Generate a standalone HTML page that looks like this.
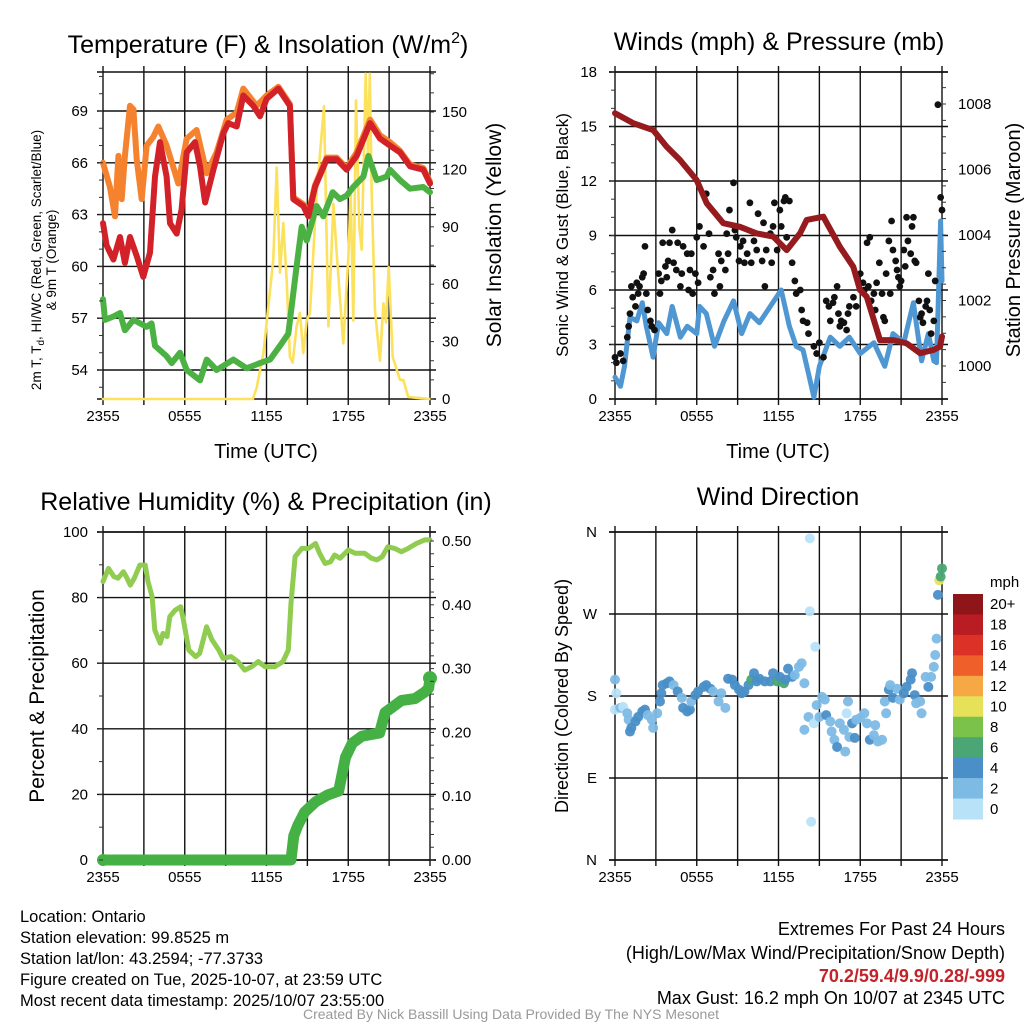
<!DOCTYPE html>
<html><head><meta charset="utf-8"><style>
body{margin:0;background:#fff}
svg{display:block;font-family:"Liberation Sans",Arial,sans-serif}
</style></head><body>
<svg id="s" width="1024" height="1024" viewBox="0 0 1024 1024" xmlns="http://www.w3.org/2000/svg">
<g id="tx" fill="#000">
<text x="268" y="53" font-size="25" text-anchor="middle">Temperature (F) &amp; Insolation (W/m<tspan dy="-10" font-size="16">2</tspan><tspan dy="10">)</tspan></text>
<text x="779" y="50" font-size="25" text-anchor="middle">Winds (mph) &amp; Pressure (mb)</text>
<text x="266" y="510" font-size="25" text-anchor="middle">Relative Humidity (%) &amp; Precipitation (in)</text>
<text x="778" y="505" font-size="25" text-anchor="middle">Wind Direction</text>
<text x="266" y="458" font-size="20" text-anchor="middle">Time (UTC)</text>
<text x="778" y="458" font-size="20" text-anchor="middle">Time (UTC)</text>
<text transform="translate(41,260) rotate(-90)" font-size="13.5" text-anchor="middle">2m T, T<tspan font-size="10" dy="3">d</tspan><tspan dy="-3">, HI/WC (Red, Green, Scarlet/Blue)</tspan></text>
<text transform="translate(56,260) rotate(-90)" font-size="13.5" text-anchor="middle">&amp; 9m T (Orange)</text>
<text transform="translate(501,235) rotate(-90)" font-size="21" text-anchor="middle">Solar Insolation (Yellow)</text>
<text transform="translate(568,235) rotate(-90)" font-size="17" text-anchor="middle">Sonic Wind &amp; Gust (Blue, Black)</text>
<text transform="translate(1020,240) rotate(-90)" font-size="20" text-anchor="middle">Station Pressure (Maroon)</text>
<text transform="translate(44,696) rotate(-90)" font-size="21" text-anchor="middle">Percent &amp; Precipitation</text>
<text transform="translate(568,696) rotate(-90)" font-size="18" text-anchor="middle">Direction (Colored By Speed)</text>
<text x="990" y="587" font-size="15">mph</text>
<g font-size="16.5">
<text x="20" y="922">Location: Ontario</text>
<text x="20" y="943">Station elevation: 99.8525 m</text>
<text x="20" y="964">Station lat/lon: 43.2594; -77.3733</text>
<text x="20" y="985">Figure created on Tue, 2025-10-07, at 23:59 UTC</text>
<text x="20" y="1006">Most recent data timestamp: 2025/10/07 23:55:00</text>
</g>
<g font-size="18" text-anchor="end">
<text x="1005" y="935">Extremes For Past 24 Hours</text>
<text x="1005" y="959">(High/Low/Max Wind/Precipitation/Snow Depth)</text>
<text x="1005" y="982" fill="#c3242b" font-weight="bold">70.2/59.4/9.9/0.28/-999</text>
<text x="1005" y="1004">Max Gust: 16.2 mph On 10/07 at 2345 UTC</text>
</g>
<text x="511" y="1019" font-size="14" fill="#999" text-anchor="middle">Created By Nick Bassill Using Data Provided By The NYS Mesonet</text>
</g>
</svg>
<script>
// ---------- data ----------
const xTickLabels=["2355","0555","1155","1755","2355"];
const tempHours=[0,0.27,0.76,1.25,1.61,1.98,2.47,2.96,3.45,3.82,4.18,4.67,4.92,5.41,5.77,6.14,6.75,7.12,7.49,8.1,8.83,9.2,9.81,10.3,11.03,11.52,12.01,12.87,13.72,13.97,14.7,15.07,15.56,16.42,17.15,17.88,18.62,19.6,20.33,21.06,21.8,22.53,23.51,24];
const tempVals=[62.5,61.2,60.4,61.7,60.2,61.7,60.6,59.4,60.8,65.2,67.2,65.2,62.5,61.9,63.3,66.6,67.2,65.8,63.7,65.6,67.7,68.3,68.1,69.9,69.3,68.7,69.7,70.3,69.3,63.9,63.5,62.9,64.6,66.2,66.2,65.6,66.4,68.3,67.4,67.0,66.6,65.8,65.6,64.8];
const t9Hours=[0,0.51,0.88,1.13,1.37,1.61,1.98,2.23,2.47,2.84,3.21,3.69,4.06,4.67,5.53,6.14,6.87,7.61,8.34,9.08,9.81,10.3,11.28,12.01,12.87,13.72,13.97,14.7,15.07,15.56,16.42,17.15,17.88,18.62,19.6,20.33,21.06,21.8,22.53,23.51,24];
const t9Vals=[66.0,64.6,62.9,66.4,63.9,66.4,69.3,69.1,66.2,63.9,67.0,67.5,68.1,67.0,64.8,67.4,67.9,65.4,66.6,68.5,68.9,70.3,69.3,69.9,70.4,69.4,64.0,63.6,63.0,64.7,66.3,66.3,65.7,66.6,68.5,67.6,67.2,66.7,65.9,65.7,64.9];
const dewHours=[0,0.15,0.76,1.25,1.61,2.23,2.72,3.21,3.57,3.82,4.67,5.04,5.65,6.14,7.12,7.61,8.34,9.57,10.54,11.52,12.26,12.99,13.6,14.21,14.58,14.95,15.68,16.17,16.86,17.39,17.88,18.37,19.11,19.48,20.09,20.82,21.06,21.8,22.53,23.51,24];
const dewVals=[58.1,56.9,57.1,57.3,56.3,56.9,56.7,56.5,56.7,55.4,54.8,54.4,55.0,54.0,53.4,54.6,54.0,54.6,54.1,54.4,54.6,55.4,56.1,60.0,62.3,61.5,63.5,62.9,64.3,63.9,64.1,64.6,65.2,66.4,65.0,65.2,65.6,65.0,64.5,64.6,64.3];
const solHours=[0,11.0,11.28,11.77,12.13,12.5,12.75,12.99,13.23,13.48,13.72,13.92,14.21,14.46,14.7,14.95,15.19,15.68,16.22,16.54,16.91,17.15,17.64,18.01,18.18,18.37,18.57,18.81,18.99,19.28,19.45,19.58,19.72,19.96,20.33,20.58,20.77,20.97,21.26,21.8,22.04,22.41,24];
const solVals=[0,0,6,24,48,73,121,66,92,62,22,19,38,45,24,41,45,107,153,38,102,76,29,75,108,41,156,90,78,170,128,170,107,46,20,50,40,69,22,10,10,1,0];
const presHours=[0,1.35,2.81,3.79,4.77,5.99,6.73,7.95,9.17,10.4,11.62,12.6,13.58,14.07,15.29,16.51,17.49,17.98,18.47,19.45,20.43,21.41,22.39,23.36,23.85,24];
const presVals=[1007.72,1007.41,1007.2,1006.7,1006.29,1005.68,1004.97,1004.36,1004.25,1004.05,1003.95,1003.54,1004.05,1004.46,1004.56,1003.64,1003.03,1002.32,1002.12,1000.79,1000.79,1000.69,1000.39,1000.49,1000.59,1000.9];
const windHours=[0,0.4,0.7,1.1,1.6,2.0,2.3,2.8,3.2,3.8,4.2,4.8,5.3,6.0,6.2,6.7,7.3,8.0,8.7,9.3,9.9,10.6,11.4,12.2,12.8,13.3,13.8,14.2,14.6,15.0,15.8,16.5,17.2,18.0,19.0,19.8,20.4,21.2,21.9,22.5,23.0,23.4,23.6,23.9,24.0];
const windVals=[1.2,0.7,1.8,4.5,4.3,5.3,4.0,2.3,4.2,3.6,5.1,3.4,4.0,3.6,5.1,4.7,2.9,4.3,5.4,3.6,4.7,4.2,5.1,6.0,4.0,2.9,2.7,1.4,0.1,1.8,3.4,2.9,3.4,2.5,3.1,1.8,3.6,3.1,5.3,2.1,3.6,2.1,2.0,9.8,6.5];
const gustHours=[0,0.1,0.4,0.6,0.9,1.0,1.1,1.2,1.3,1.5,1.6,1.7,1.8,2.0,2.1,2.2,2.3,2.4,2.6,2.7,2.9,3.2,3.3,3.4,3.5,3.7,3.8,3.9,4.0,4.2,4.3,4.5,4.6,4.8,4.9,5.0,5.3,5.4,5.5,5.6,5.7,5.9,6.0,6.1,6.2,6.5,6.7,6.9,7.0,7.2,7.3,7.6,7.7,7.8,8.1,8.2,8.3,8.4,8.7,8.8,8.9,9.1,9.2,9.4,9.5,9.7,9.9,10.0,10.2,10.4,10.5,10.8,10.9,11.0,11.1,11.4,11.5,11.6,11.7,11.9,12.1,12.2,12.4,12.5,12.6,12.8,13.0,13.2,13.3,13.6,13.7,13.8,14.1,14.2,14.6,14.8,15.0,15.3,15.5,15.7,15.8,16.0,16.1,16.3,16.4,16.5,16.6,16.8,17.0,17.1,17.2,17.5,17.7,18.0,18.2,18.3,18.5,18.6,18.7,18.8,19.0,19.1,19.2,19.4,19.6,19.7,19.8,19.9,20.1,20.2,20.3,20.4,20.6,20.7,20.8,20.9,21.0,21.2,21.3,21.4,21.5,21.7,21.8,21.9,22.0,22.1,22.3,22.4,22.5,22.6,22.8,22.9,23.0,23.1,23.2,23.4,23.5,23.7,23.9,24.0];
const gustVals=[2.3,2.0,2.5,2.1,3.4,4.0,4.7,6.2,5.6,5.1,6.4,5.8,6.2,6.7,6.9,8.4,5.8,4.9,4.3,4.0,3.8,6.9,5.8,6.5,8.6,7.3,6.7,7.6,8.6,9.3,7.5,7.1,8.6,6.2,6.9,8.4,8.0,6.0,7.1,8.0,5.8,6.9,8.9,6.4,9.5,8.4,11.3,9.1,6.7,7.1,5.8,8.0,6.2,7.6,7.1,9.1,8.0,10.4,11.9,9.3,8.9,7.6,8.4,8.7,7.5,8.0,10.8,7.5,8.7,8.2,10.2,7.6,9.7,6.2,8.2,9.1,7.5,9.5,10.8,8.2,10.4,9.5,10.9,11.1,8.9,10.9,7.5,6.5,5.8,6.0,4.9,4.3,4.2,3.6,2.9,2.5,3.1,2.3,5.4,5.1,4.3,5.3,5.6,6.2,4.7,4.0,4.3,4.2,3.8,4.7,5.1,5.6,5.1,6.9,6.4,6.0,8.6,6.2,8.9,5.4,5.8,4.9,6.4,7.5,5.8,4.5,4.3,6.9,8.7,5.8,9.8,8.2,7.6,7.1,6.7,6.2,6.5,8.2,7.3,10.0,8.7,8.0,9.5,10.0,7.6,7.5,5.4,4.5,4.7,4.2,5.1,5.4,6.9,4.9,3.6,4.3,6.5,16.2,11.1,10.4];
const rhHours=[0,0.4,0.8,1.1,1.5,1.7,2.0,2.3,2.7,3.1,3.3,3.6,3.8,4.2,4.4,4.7,4.9,5.3,5.7,5.9,6.3,6.8,7.1,7.6,8.0,8.5,8.8,9.4,9.9,10.4,10.9,11.4,11.9,12.6,13.2,13.6,13.8,14.1,14.6,15.1,15.6,15.9,16.3,16.7,17.0,17.4,18.0,18.5,19.2,19.7,20.1,20.5,20.9,21.4,21.9,22.4,23.0,23.6,24];
const rhVals=[84.9,88.9,86.4,85.9,87.9,86.4,83.8,85.9,89.9,89.9,84.9,80.3,70.1,66.1,69.1,68.1,74.2,76.2,77.2,73.2,64.0,62.0,63.0,71.1,67.1,64.0,61.5,62.0,60.5,57.9,58.9,60.5,58.9,58.9,60.5,64.0,78.3,92.5,95.0,95.0,96.5,93.5,90.4,90.9,93.0,92.0,94.5,93.5,93.5,92.0,91.5,92.5,95.5,95.0,94.0,95.0,96.5,97.6,97.6];
const prHours=[0,13.8,14.0,14.3,14.8,15.6,16.5,17.3,17.8,18.3,19.0,20.3,20.7,21.4,21.9,22.9,23.6,23.9,24];
const prVals=[0,0,0.038,0.054,0.075,0.091,0.102,0.108,0.161,0.183,0.194,0.199,0.231,0.242,0.25,0.253,0.263,0.269,0.285];
const dirHours=[0.0,0.1,0.0,0.4,0.6,0.9,1.0,1.2,1.1,1.5,1.7,2.0,2.2,2.4,2.7,2.8,3.1,3.3,3.4,3.5,3.8,4.0,4.3,4.6,4.9,5.0,5.3,5.5,5.6,5.9,6.1,6.5,6.7,7.0,7.2,7.6,7.8,8.1,8.3,8.6,8.8,9.1,9.3,9.5,9.8,10.0,10.2,10.4,10.6,11.0,11.4,11.6,11.9,12.1,12.4,12.5,12.7,13.0,13.2,13.5,13.7,13.9,14.3,14.3,14.7,13.9,14.2,14.6,14.8,15.0,15.2,15.4,15.5,15.8,15.9,16.1,16.3,16.5,16.8,16.9,17.0,17.1,17.2,17.4,17.6,17.7,18.0,18.3,18.5,18.7,19.0,19.1,19.3,19.6,19.8,19.9,20.1,20.2,20.4,20.7,20.9,21.2,21.4,21.7,21.8,22.0,22.1,22.4,22.5,22.8,23.0,23.2,23.4,23.5,23.6,23.7,23.8,23.9,24.0,14.4];
const dirVals=[198,183,165,167,168,161,154,145,141,152,157,163,165,159,154,145,161,174,183,192,194,196,192,185,178,167,163,165,174,181,185,190,192,188,185,174,183,167,199,198,192,187,183,185,192,198,205,196,199,196,196,205,196,201,194,198,210,201,203,212,216,194,353,273,234,143,157,150,170,157,179,176,159,152,141,132,124,150,143,119,161,174,135,150,134,154,156,161,150,132,137,148,130,132,174,161,187,192,178,188,176,183,190,198,205,181,172,174,161,201,190,201,212,225,243,291,307,311,320,42];
const dirSpeed=[2,0,0,2,0,2,2,4,4,4,4,4,4,2,2,2,2,4,4,4,4,4,2,4,2,4,4,4,2,4,4,4,4,4,2,2,2,2,4,4,4,4,4,4,4,6,4,4,4,4,4,4,6,4,6,4,4,4,2,2,2,2,0,0,0,2,2,0,2,2,2,2,4,2,2,2,4,2,2,2,0,2,2,4,4,2,2,2,2,4,2,2,2,2,2,2,4,2,4,2,2,4,4,4,4,4,2,2,2,2,4,2,2,2,2,4,10,6,6,0];
const cbLabels=["20+","18","16","14","12","10","8","6","4","2","0"];
const cbColors=["#8e1518","#b91c22","#dc3127","#ef5f2a","#f5a843","#e7e15a","#7bc24a","#4aa674","#4a8fc7","#7dbbe5","#b8e2f8"];

// ---------- helpers ----------
const S=document.getElementById('s');
const NS='http://www.w3.org/2000/svg';
function mk(tag,attrs,parent){const e=document.createElementNS(NS,tag);for(const k in attrs)e.setAttribute(k,attrs[k]);(parent||S).appendChild(e);return e;}
function lin(d0,d1,r0,r1){return v=>r0+(v-d0)*(r1-r0)/(d1-d0);}
function txt(x,y,s,anchor,size,parent){const t=mk('text',{x:x,y:y,'font-size':size||15,'text-anchor':anchor||'middle'},parent);t.textContent=s;return t;}

function panel(name,x0,x1,y0,y1,hLines){
  const g=mk('g',{});
  
  
  const xs=lin(0,24,x0,x1);
  for(let h=0;h<=24;h+=3){mk('line',{x1:xs(h),x2:xs(h),y1:y0-6,y2:y1+6,stroke:'#111','stroke-width':1.4},g);}
  hLines.forEach(y=>{mk('line',{x1:x0-6,x2:x1+6,y1:y,y2:y,stroke:'#111','stroke-width':1.4},g);});
  mk('line',{x1:x0-6,x2:x1+6,y1:y0,y2:y0,stroke:'#111','stroke-width':1.4},g);
  mk('line',{x1:x0-6,x2:x1+6,y1:y1,y2:y1,stroke:'#111','stroke-width':1.4},g);
  const lg=mk('g',{});
  
  
  xTickLabels.forEach((l,i)=>txt(xs(i*6),y1+22,l,'middle',15,lg));
  return xs;
}
function path(xs,ys,hours,vals,color,w,name){
  let d='';hours.forEach((h,i)=>{d+=(i?'L':'M')+xs(h).toFixed(1)+','+ys(vals[i]).toFixed(1);});
  const p=mk('path',{d:d,fill:'none',stroke:color,'stroke-width':w,'stroke-linejoin':'round','stroke-linecap':'round'});
  
  
  return p;
}
function yAxis(name,vals,sc,x,anchor,fmt,minorStep,lo,hi,side,dir){
  const g=mk('g',{});
  
  
  vals.forEach(v=>{txt(x,sc(v)+5,fmt(v),anchor,15,g);});
  if(minorStep){for(let v=lo;v<=hi+1e-9;v+=minorStep){const y=sc(v);mk('line',{x1:side,x2:side+dir*4,y1:y,y2:y,stroke:'#333','stroke-width':1},g);}}
}

// ---------- panel 1: temperature ----------
(function(){
  const tY=lin(54,69,370,111);
  const sY=lin(0,150,399,112);
  const xs=panel('temp',103,430,72,399,[69,66,63,60,57,54].map(tY));
  path(xs,sY,solHours,solVals,'#fbe15c',2.6,'insolation-line');
  path(xs,tY,dewHours,dewVals,'#4bb143',6,'dewpoint-line');
  path(xs,tY,t9Hours,t9Vals,'#f5822f',6,'temp-9m-line');
  path(xs,tY,tempHours,tempVals,'#d22128',6,'temp-2m-line');
  yAxis('temp-y-tick-labels',[54,57,60,63,66,69],tY,88,'end',v=>v,1,53,71,103,-1);
  yAxis('insolation-tick-labels',[0,30,60,90,120,150],sY,442,'start',v=>v,10,0,170,430,1);
})();

// ---------- panel 2: winds ----------
(function(){
  const wY=lin(0,18,399,72);
  const pY=lin(1000,1008,366,104);
  const xs=panel('wind',615,942,72,399,[0,3,6,9,12,15,18].map(wY));
  path(xs,wY,windHours,windVals,'#4f97d2',5,'sonic-wind-line');
  const g=mk('g',{});
  
  
  gustHours.forEach((h,i)=>{mk('circle',{cx:xs(h),cy:wY(gustVals[i]),r:3.4,fill:'#111'},g);});
  path(xs,pY,presHours,presVals,'#961b1e',6,'pressure-line');
  yAxis('wind-y-tick-labels',[0,3,6,9,12,15,18],wY,597,'end',v=>v,1,0,18,615,-1);
  yAxis('pressure-tick-labels',[1000,1002,1004,1006,1008],pY,958,'start',v=>v,0.5,999.5,1008.5,942,1);
})();

// ---------- panel 3: RH & precip ----------
(function(){
  const rY=lin(0,100,860,532);
  const pY=lin(0,0.5,860,541);
  const xs=panel('rh',103,430,532,860,[0,20,40,60,80,100].map(rY));
  path(xs,rY,rhHours,rhVals,'#8fcc4f',5,'rh-line');
  path(xs,pY,prHours,prVals,'#45b044',11,'precip-line');
  const e=mk('circle',{cx:xs(prHours[prHours.length-1]),cy:pY(prVals[prVals.length-1]),r:7,fill:'#45b044'});
  
  
  const s0=mk('circle',{cx:xs(0),cy:pY(0),r:6,fill:'#45b044'});
  
  
  yAxis('rh-y-tick-labels',[0,20,40,60,80,100],rY,88,'end',v=>v,10,0,100,103,-1);
  yAxis('precip-tick-labels',[0,0.1,0.2,0.3,0.4,0.5],pY,442,'start',v=>v.toFixed(2),0.02,0,0.5,430,1);
})();

// ---------- panel 4: wind direction ----------
(function(){
  const dY=lin(0,360,860,532);
  const xs=panel('wdir',615,942,532,860,[0,90,180,270,360].map(dY));
  const dl=['N','E','S','W','N'];
  const g0=mk('g',{});
  
  
  [0,90,180,270,360].forEach((d,i)=>txt(597,dY(d)+5,dl[i],'end',15,g0));
  const g=mk('g',{});
  
  
  dirHours.forEach((h,i)=>{const idx=10-Math.min(10,Math.floor(dirSpeed[i]/2));mk('circle',{cx:xs(h),cy:dY(dirVals[i]),r:5,fill:cbColors[idx],'fill-opacity':0.95},g);});
  const cb=mk('g',{});
  
  
  const bh=(819-594)/cbColors.length;
  cbColors.forEach((c,i)=>{mk('rect',{x:953,y:594+i*bh,width:30,height:bh+0.5,fill:c},cb);txt(990,594+i*bh+bh/2+5,cbLabels[i],'start',15,cb);});
})();
</script>
</body></html>
